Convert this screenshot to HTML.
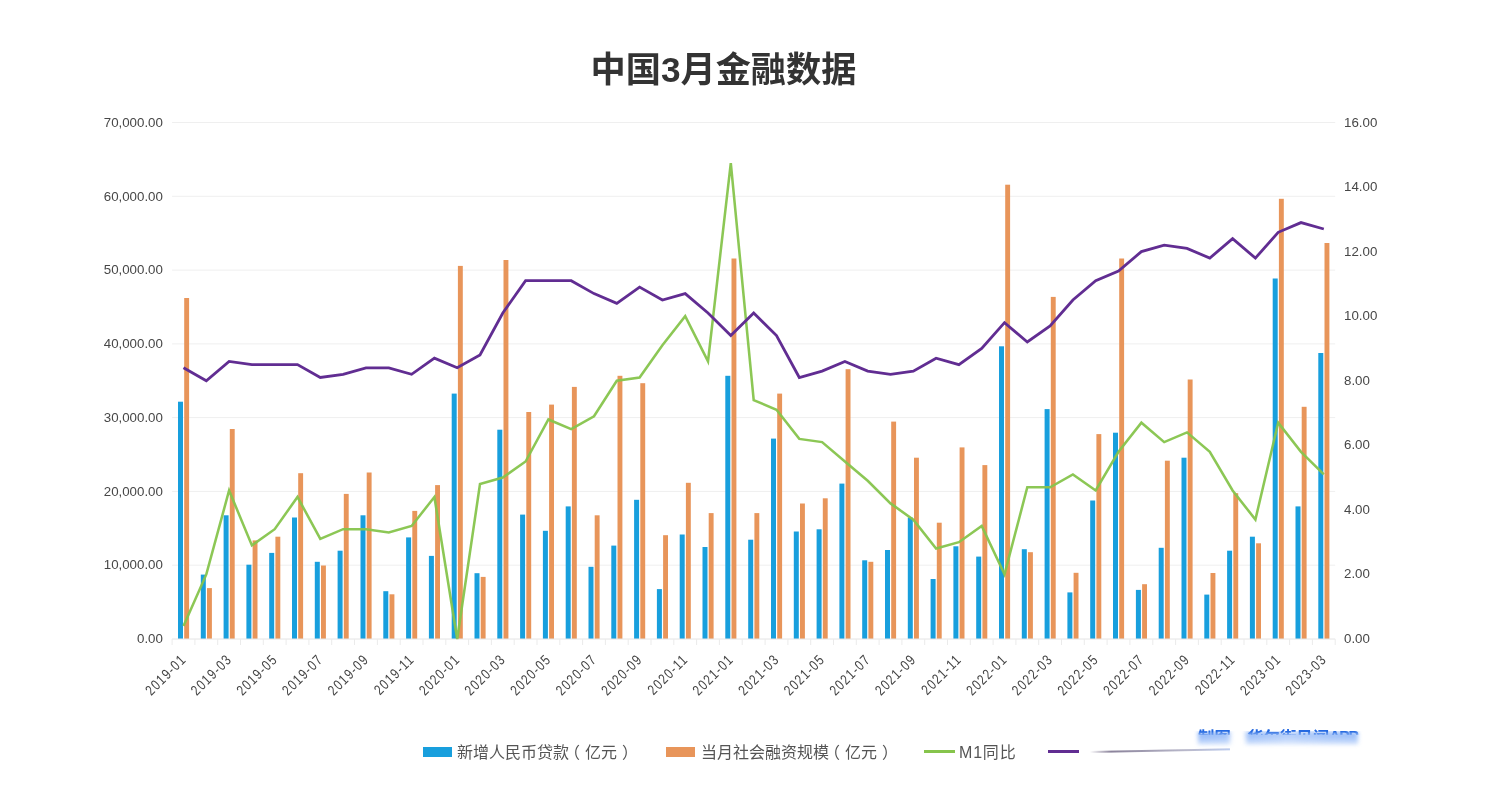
<!DOCTYPE html><html lang="zh"><head><meta charset="utf-8"><title>中国3月金融数据</title>
<style>
html,body{margin:0;padding:0;background:#fff;}
body{width:1498px;height:800px;overflow:hidden;position:relative;font-family:"Liberation Sans","Noto Sans CJK SC",sans-serif;}
#chart{position:absolute;left:0;top:0;width:1498px;height:800px;}
.title{position:absolute;left:0;top:43.5px;width:1447px;text-align:center;font-weight:bold;font-size:35.2px;line-height:52px;color:#333;letter-spacing:0px;}
.yl{font-size:13.3px;fill:#474747;}
.xl{font-size:14.6px;fill:#444;letter-spacing:1.4px;}
.lg{position:absolute;top:741px;height:24px;line-height:24px;font-size:16px;color:#555;white-space:nowrap;}
.sw{position:absolute;top:747px;height:10px;width:29px;}
.ln{position:absolute;top:750.2px;height:2.5px;width:31px;}
.pl{position:relative;left:-5px;}.pr{position:relative;left:5px;}
.wm{position:absolute;left:1198px;top:726.6px;width:170px;height:8px;overflow:hidden;-webkit-mask-image:linear-gradient(to bottom,#000 55%,rgba(0,0,0,.3));mask-image:linear-gradient(to bottom,#000 55%,rgba(0,0,0,.3));}
.wm span{display:block;font-size:16.4px;line-height:18px;font-weight:bold;color:#2468e0;white-space:nowrap;}
.wm span{margin-top:1px;filter:blur(0.7px);}
.wm b{opacity:0;font-weight:bold;}
.wm i{font-style:normal;font-size:15.5px;letter-spacing:-1.1px;position:relative;top:-1.3px;}
.wmb{position:absolute;left:1188px;top:731px;width:184px;height:19px;overflow:hidden;-webkit-mask-image:linear-gradient(to bottom,rgba(0,0,0,.8),rgba(0,0,0,.5) 45%,rgba(0,0,0,0) 95%);mask-image:linear-gradient(to bottom,rgba(0,0,0,.8),rgba(0,0,0,.5) 45%,rgba(0,0,0,0) 95%);}
.wmb div{position:absolute;left:10px;top:1px;width:160px;height:14px;filter:blur(2.2px);background:linear-gradient(90deg,rgba(63,130,242,.85) 0,rgba(63,130,242,.75) 30px,rgba(63,130,242,0) 34px,rgba(63,130,242,0) 46px,rgba(63,130,242,.8) 50px,rgba(63,130,242,.6) 90px,rgba(63,130,242,.75) 130px,rgba(63,130,242,.8) 160px);}
.smear2{position:absolute;left:1090px;top:750.8px;width:140px;height:2px;background:linear-gradient(90deg,rgba(120,110,140,0),rgba(110,100,130,.8) 15%,rgba(140,140,170,.6) 70%,rgba(120,150,220,.5));filter:blur(.7px);transform:rotate(-1.1deg);transform-origin:left center;}
</style></head><body>
<svg id="chart" width="1498" height="800" viewBox="0 0 1498 800" font-family="Liberation Sans, sans-serif">
<line x1="172.1" y1="565.2" x2="1335.2" y2="565.2" stroke="#efefef" stroke-width="1"/>
<line x1="172.1" y1="491.4" x2="1335.2" y2="491.4" stroke="#efefef" stroke-width="1"/>
<line x1="172.1" y1="417.6" x2="1335.2" y2="417.6" stroke="#efefef" stroke-width="1"/>
<line x1="172.1" y1="343.9" x2="1335.2" y2="343.9" stroke="#efefef" stroke-width="1"/>
<line x1="172.1" y1="270.1" x2="1335.2" y2="270.1" stroke="#efefef" stroke-width="1"/>
<line x1="172.1" y1="196.3" x2="1335.2" y2="196.3" stroke="#efefef" stroke-width="1"/>
<line x1="172.1" y1="122.5" x2="1335.2" y2="122.5" stroke="#efefef" stroke-width="1"/>
<rect x="178.0" y="401.7" width="5" height="237.3" fill="#189fdd"/>
<rect x="184.2" y="298.0" width="4.9" height="341.0" fill="#e8955a"/>
<rect x="200.8" y="574.6" width="5" height="64.4" fill="#189fdd"/>
<rect x="207.0" y="588.1" width="4.9" height="50.9" fill="#e8955a"/>
<rect x="223.6" y="515.3" width="5" height="123.7" fill="#189fdd"/>
<rect x="229.8" y="429.0" width="4.9" height="210.0" fill="#e8955a"/>
<rect x="246.4" y="564.7" width="5" height="74.3" fill="#189fdd"/>
<rect x="252.6" y="540.4" width="4.9" height="98.6" fill="#e8955a"/>
<rect x="269.2" y="552.9" width="5" height="86.1" fill="#189fdd"/>
<rect x="275.4" y="536.7" width="4.9" height="102.3" fill="#e8955a"/>
<rect x="292.0" y="517.5" width="5" height="121.5" fill="#189fdd"/>
<rect x="298.2" y="473.2" width="4.9" height="165.8" fill="#e8955a"/>
<rect x="314.8" y="561.8" width="5" height="77.2" fill="#189fdd"/>
<rect x="321.0" y="565.5" width="4.9" height="73.5" fill="#e8955a"/>
<rect x="337.6" y="550.7" width="5" height="88.3" fill="#189fdd"/>
<rect x="343.8" y="493.9" width="4.9" height="145.1" fill="#e8955a"/>
<rect x="360.5" y="515.3" width="5" height="123.7" fill="#189fdd"/>
<rect x="366.7" y="472.5" width="4.9" height="166.5" fill="#e8955a"/>
<rect x="383.3" y="591.2" width="5" height="47.8" fill="#189fdd"/>
<rect x="389.5" y="594.3" width="4.9" height="44.7" fill="#e8955a"/>
<rect x="406.1" y="537.4" width="5" height="101.6" fill="#189fdd"/>
<rect x="412.3" y="510.9" width="4.9" height="128.1" fill="#e8955a"/>
<rect x="428.9" y="555.9" width="5" height="83.1" fill="#189fdd"/>
<rect x="435.1" y="485.1" width="4.9" height="153.9" fill="#e8955a"/>
<rect x="451.7" y="393.6" width="5" height="245.4" fill="#189fdd"/>
<rect x="457.9" y="265.9" width="4.9" height="373.1" fill="#e8955a"/>
<rect x="474.5" y="573.2" width="5" height="65.8" fill="#189fdd"/>
<rect x="480.7" y="576.9" width="4.9" height="62.1" fill="#e8955a"/>
<rect x="497.3" y="429.7" width="5" height="209.3" fill="#189fdd"/>
<rect x="503.5" y="260.0" width="4.9" height="379.0" fill="#e8955a"/>
<rect x="520.1" y="514.6" width="5" height="124.4" fill="#189fdd"/>
<rect x="526.3" y="412.0" width="4.9" height="227.0" fill="#e8955a"/>
<rect x="542.9" y="530.8" width="5" height="108.2" fill="#189fdd"/>
<rect x="549.1" y="404.6" width="4.9" height="234.4" fill="#e8955a"/>
<rect x="565.7" y="506.4" width="5" height="132.6" fill="#189fdd"/>
<rect x="571.9" y="386.9" width="4.9" height="252.1" fill="#e8955a"/>
<rect x="588.5" y="566.8" width="5" height="72.2" fill="#189fdd"/>
<rect x="594.7" y="515.3" width="4.9" height="123.7" fill="#e8955a"/>
<rect x="611.3" y="545.6" width="5" height="93.4" fill="#189fdd"/>
<rect x="617.5" y="375.8" width="4.9" height="263.2" fill="#e8955a"/>
<rect x="634.1" y="499.8" width="5" height="139.2" fill="#189fdd"/>
<rect x="640.3" y="383.2" width="4.9" height="255.8" fill="#e8955a"/>
<rect x="656.9" y="589.1" width="5" height="49.9" fill="#189fdd"/>
<rect x="663.1" y="535.2" width="4.9" height="103.8" fill="#e8955a"/>
<rect x="679.7" y="534.5" width="5" height="104.5" fill="#189fdd"/>
<rect x="685.9" y="482.8" width="4.9" height="156.2" fill="#e8955a"/>
<rect x="702.5" y="547.0" width="5" height="92.0" fill="#189fdd"/>
<rect x="708.7" y="513.1" width="4.9" height="125.9" fill="#e8955a"/>
<rect x="725.3" y="375.8" width="5" height="263.2" fill="#189fdd"/>
<rect x="731.5" y="258.5" width="4.9" height="380.5" fill="#e8955a"/>
<rect x="748.2" y="539.7" width="5" height="99.3" fill="#189fdd"/>
<rect x="754.4" y="513.1" width="4.9" height="125.9" fill="#e8955a"/>
<rect x="771.0" y="438.6" width="5" height="200.4" fill="#189fdd"/>
<rect x="777.2" y="393.6" width="4.9" height="245.4" fill="#e8955a"/>
<rect x="793.8" y="531.5" width="5" height="107.5" fill="#189fdd"/>
<rect x="800.0" y="503.5" width="4.9" height="135.5" fill="#e8955a"/>
<rect x="816.6" y="529.3" width="5" height="109.7" fill="#189fdd"/>
<rect x="822.8" y="498.3" width="4.9" height="140.7" fill="#e8955a"/>
<rect x="839.4" y="483.6" width="5" height="155.4" fill="#189fdd"/>
<rect x="845.6" y="369.2" width="4.9" height="269.8" fill="#e8955a"/>
<rect x="862.2" y="560.3" width="5" height="78.7" fill="#189fdd"/>
<rect x="868.4" y="561.8" width="4.9" height="77.2" fill="#e8955a"/>
<rect x="885.0" y="550.0" width="5" height="89.0" fill="#189fdd"/>
<rect x="891.2" y="421.6" width="4.9" height="217.4" fill="#e8955a"/>
<rect x="907.8" y="517.5" width="5" height="121.5" fill="#189fdd"/>
<rect x="914.0" y="457.7" width="4.9" height="181.3" fill="#e8955a"/>
<rect x="930.6" y="579.0" width="5" height="60.0" fill="#189fdd"/>
<rect x="936.8" y="522.7" width="4.9" height="116.3" fill="#e8955a"/>
<rect x="953.4" y="546.3" width="5" height="92.7" fill="#189fdd"/>
<rect x="959.6" y="447.4" width="4.9" height="191.6" fill="#e8955a"/>
<rect x="976.2" y="556.6" width="5" height="82.4" fill="#189fdd"/>
<rect x="982.4" y="465.1" width="4.9" height="173.9" fill="#e8955a"/>
<rect x="999.0" y="346.3" width="5" height="292.7" fill="#189fdd"/>
<rect x="1005.2" y="184.7" width="4.9" height="454.3" fill="#e8955a"/>
<rect x="1021.8" y="549.2" width="5" height="89.8" fill="#189fdd"/>
<rect x="1028.0" y="552.2" width="4.9" height="86.8" fill="#e8955a"/>
<rect x="1044.6" y="409.1" width="5" height="229.9" fill="#189fdd"/>
<rect x="1050.8" y="296.9" width="4.9" height="342.1" fill="#e8955a"/>
<rect x="1067.4" y="592.4" width="5" height="46.6" fill="#189fdd"/>
<rect x="1073.6" y="572.8" width="4.9" height="66.2" fill="#e8955a"/>
<rect x="1090.2" y="500.5" width="5" height="138.5" fill="#189fdd"/>
<rect x="1096.4" y="434.1" width="4.9" height="204.9" fill="#e8955a"/>
<rect x="1113.0" y="432.7" width="5" height="206.3" fill="#189fdd"/>
<rect x="1119.2" y="258.5" width="4.9" height="380.5" fill="#e8955a"/>
<rect x="1135.9" y="589.9" width="5" height="49.1" fill="#189fdd"/>
<rect x="1142.1" y="584.2" width="4.9" height="54.8" fill="#e8955a"/>
<rect x="1158.7" y="547.8" width="5" height="91.2" fill="#189fdd"/>
<rect x="1164.9" y="460.7" width="4.9" height="178.3" fill="#e8955a"/>
<rect x="1181.5" y="457.7" width="5" height="181.3" fill="#189fdd"/>
<rect x="1187.7" y="379.5" width="4.9" height="259.5" fill="#e8955a"/>
<rect x="1204.3" y="594.6" width="5" height="44.4" fill="#189fdd"/>
<rect x="1210.5" y="573.0" width="4.9" height="66.0" fill="#e8955a"/>
<rect x="1227.1" y="550.7" width="5" height="88.3" fill="#189fdd"/>
<rect x="1233.3" y="493.2" width="4.9" height="145.8" fill="#e8955a"/>
<rect x="1249.9" y="536.7" width="5" height="102.3" fill="#189fdd"/>
<rect x="1256.1" y="543.3" width="4.9" height="95.7" fill="#e8955a"/>
<rect x="1272.7" y="278.5" width="5" height="360.5" fill="#189fdd"/>
<rect x="1278.9" y="198.8" width="4.9" height="440.2" fill="#e8955a"/>
<rect x="1295.5" y="506.4" width="5" height="132.6" fill="#189fdd"/>
<rect x="1301.7" y="406.8" width="4.9" height="232.2" fill="#e8955a"/>
<rect x="1318.3" y="353.0" width="5" height="286.0" fill="#189fdd"/>
<rect x="1324.5" y="243.0" width="4.9" height="396.0" fill="#e8955a"/>
<line x1="172.1" y1="639.0" x2="1335.2" y2="639.0" stroke="#e4e4e4" stroke-width="1"/>
<line x1="172.1" y1="639.0" x2="172.1" y2="645.0" stroke="#ebebeb" stroke-width="1"/>
<line x1="194.9" y1="639.0" x2="194.9" y2="645.0" stroke="#ebebeb" stroke-width="1"/>
<line x1="217.7" y1="639.0" x2="217.7" y2="645.0" stroke="#ebebeb" stroke-width="1"/>
<line x1="240.5" y1="639.0" x2="240.5" y2="645.0" stroke="#ebebeb" stroke-width="1"/>
<line x1="263.3" y1="639.0" x2="263.3" y2="645.0" stroke="#ebebeb" stroke-width="1"/>
<line x1="286.1" y1="639.0" x2="286.1" y2="645.0" stroke="#ebebeb" stroke-width="1"/>
<line x1="308.9" y1="639.0" x2="308.9" y2="645.0" stroke="#ebebeb" stroke-width="1"/>
<line x1="331.7" y1="639.0" x2="331.7" y2="645.0" stroke="#ebebeb" stroke-width="1"/>
<line x1="354.5" y1="639.0" x2="354.5" y2="645.0" stroke="#ebebeb" stroke-width="1"/>
<line x1="377.4" y1="639.0" x2="377.4" y2="645.0" stroke="#ebebeb" stroke-width="1"/>
<line x1="400.2" y1="639.0" x2="400.2" y2="645.0" stroke="#ebebeb" stroke-width="1"/>
<line x1="423.0" y1="639.0" x2="423.0" y2="645.0" stroke="#ebebeb" stroke-width="1"/>
<line x1="445.8" y1="639.0" x2="445.8" y2="645.0" stroke="#ebebeb" stroke-width="1"/>
<line x1="468.6" y1="639.0" x2="468.6" y2="645.0" stroke="#ebebeb" stroke-width="1"/>
<line x1="491.4" y1="639.0" x2="491.4" y2="645.0" stroke="#ebebeb" stroke-width="1"/>
<line x1="514.2" y1="639.0" x2="514.2" y2="645.0" stroke="#ebebeb" stroke-width="1"/>
<line x1="537.0" y1="639.0" x2="537.0" y2="645.0" stroke="#ebebeb" stroke-width="1"/>
<line x1="559.8" y1="639.0" x2="559.8" y2="645.0" stroke="#ebebeb" stroke-width="1"/>
<line x1="582.6" y1="639.0" x2="582.6" y2="645.0" stroke="#ebebeb" stroke-width="1"/>
<line x1="605.4" y1="639.0" x2="605.4" y2="645.0" stroke="#ebebeb" stroke-width="1"/>
<line x1="628.2" y1="639.0" x2="628.2" y2="645.0" stroke="#ebebeb" stroke-width="1"/>
<line x1="651.0" y1="639.0" x2="651.0" y2="645.0" stroke="#ebebeb" stroke-width="1"/>
<line x1="673.8" y1="639.0" x2="673.8" y2="645.0" stroke="#ebebeb" stroke-width="1"/>
<line x1="696.6" y1="639.0" x2="696.6" y2="645.0" stroke="#ebebeb" stroke-width="1"/>
<line x1="719.4" y1="639.0" x2="719.4" y2="645.0" stroke="#ebebeb" stroke-width="1"/>
<line x1="742.2" y1="639.0" x2="742.2" y2="645.0" stroke="#ebebeb" stroke-width="1"/>
<line x1="765.1" y1="639.0" x2="765.1" y2="645.0" stroke="#ebebeb" stroke-width="1"/>
<line x1="787.9" y1="639.0" x2="787.9" y2="645.0" stroke="#ebebeb" stroke-width="1"/>
<line x1="810.7" y1="639.0" x2="810.7" y2="645.0" stroke="#ebebeb" stroke-width="1"/>
<line x1="833.5" y1="639.0" x2="833.5" y2="645.0" stroke="#ebebeb" stroke-width="1"/>
<line x1="856.3" y1="639.0" x2="856.3" y2="645.0" stroke="#ebebeb" stroke-width="1"/>
<line x1="879.1" y1="639.0" x2="879.1" y2="645.0" stroke="#ebebeb" stroke-width="1"/>
<line x1="901.9" y1="639.0" x2="901.9" y2="645.0" stroke="#ebebeb" stroke-width="1"/>
<line x1="924.7" y1="639.0" x2="924.7" y2="645.0" stroke="#ebebeb" stroke-width="1"/>
<line x1="947.5" y1="639.0" x2="947.5" y2="645.0" stroke="#ebebeb" stroke-width="1"/>
<line x1="970.3" y1="639.0" x2="970.3" y2="645.0" stroke="#ebebeb" stroke-width="1"/>
<line x1="993.1" y1="639.0" x2="993.1" y2="645.0" stroke="#ebebeb" stroke-width="1"/>
<line x1="1015.9" y1="639.0" x2="1015.9" y2="645.0" stroke="#ebebeb" stroke-width="1"/>
<line x1="1038.7" y1="639.0" x2="1038.7" y2="645.0" stroke="#ebebeb" stroke-width="1"/>
<line x1="1061.5" y1="639.0" x2="1061.5" y2="645.0" stroke="#ebebeb" stroke-width="1"/>
<line x1="1084.3" y1="639.0" x2="1084.3" y2="645.0" stroke="#ebebeb" stroke-width="1"/>
<line x1="1107.1" y1="639.0" x2="1107.1" y2="645.0" stroke="#ebebeb" stroke-width="1"/>
<line x1="1129.9" y1="639.0" x2="1129.9" y2="645.0" stroke="#ebebeb" stroke-width="1"/>
<line x1="1152.8" y1="639.0" x2="1152.8" y2="645.0" stroke="#ebebeb" stroke-width="1"/>
<line x1="1175.6" y1="639.0" x2="1175.6" y2="645.0" stroke="#ebebeb" stroke-width="1"/>
<line x1="1198.4" y1="639.0" x2="1198.4" y2="645.0" stroke="#ebebeb" stroke-width="1"/>
<line x1="1221.2" y1="639.0" x2="1221.2" y2="645.0" stroke="#ebebeb" stroke-width="1"/>
<line x1="1244.0" y1="639.0" x2="1244.0" y2="645.0" stroke="#ebebeb" stroke-width="1"/>
<line x1="1266.8" y1="639.0" x2="1266.8" y2="645.0" stroke="#ebebeb" stroke-width="1"/>
<line x1="1289.6" y1="639.0" x2="1289.6" y2="645.0" stroke="#ebebeb" stroke-width="1"/>
<line x1="1312.4" y1="639.0" x2="1312.4" y2="645.0" stroke="#ebebeb" stroke-width="1"/>
<line x1="1335.2" y1="639.0" x2="1335.2" y2="645.0" stroke="#ebebeb" stroke-width="1"/>
<polyline points="183.5,626.1 206.3,574.4 229.1,490.5 251.9,545.4 274.7,529.2 297.5,497.0 320.3,538.9 343.1,529.2 366.0,529.2 388.8,532.5 411.6,526.0 434.4,497.0 457.2,639.0 480.0,484.1 502.8,477.6 525.6,461.5 548.4,419.5 571.2,429.2 594.0,416.3 616.8,380.8 639.6,377.5 662.4,345.2 685.2,316.2 708.0,361.4 730.8,163.2 753.7,400.1 776.5,409.8 799.3,438.9 822.1,442.1 844.9,461.5 867.7,480.8 890.5,503.4 913.3,519.6 936.1,548.6 958.9,542.2 981.7,526.0 1004.5,574.4 1027.3,487.3 1050.1,487.3 1072.9,474.4 1095.7,490.5 1118.5,451.8 1141.4,422.7 1164.2,442.1 1187.0,432.4 1209.8,451.8 1232.6,490.5 1255.4,519.6 1278.2,422.7 1301.0,451.8 1323.8,474.4" fill="none" stroke="#86c44c" stroke-width="2.55" stroke-opacity="0.95" stroke-linejoin="miter" stroke-linecap="butt"/>
<polyline points="183.5,367.8 206.3,380.8 229.1,361.4 251.9,364.6 274.7,364.6 297.5,364.6 320.3,377.5 343.1,374.3 366.0,367.8 388.8,367.8 411.6,374.3 434.4,358.2 457.2,367.8 480.0,354.9 502.8,313.0 525.6,280.7 548.4,280.7 571.2,280.7 594.0,293.6 616.8,303.3 639.6,287.1 662.4,300.0 685.2,293.6 708.0,313.0 730.8,335.6 753.7,313.0 776.5,335.6 799.3,377.5 822.1,371.1 844.9,361.4 867.7,371.1 890.5,374.3 913.3,371.1 936.1,358.2 958.9,364.6 981.7,348.5 1004.5,322.6 1027.3,342.0 1050.1,325.9 1072.9,300.0 1095.7,280.7 1118.5,271.0 1141.4,251.6 1164.2,245.2 1187.0,248.4 1209.8,258.1 1232.6,238.7 1255.4,258.1 1278.2,232.3 1301.0,222.6 1323.8,229.0" fill="none" stroke="#612d92" stroke-width="2.8" stroke-opacity="1" stroke-linejoin="miter" stroke-linecap="butt"/>
<text class="yl" x="162.9" y="643.2" text-anchor="end">0.00</text>
<text class="yl" x="162.9" y="569.4" text-anchor="end">10,000.00</text>
<text class="yl" x="162.9" y="495.6" text-anchor="end">20,000.00</text>
<text class="yl" x="162.9" y="421.8" text-anchor="end">30,000.00</text>
<text class="yl" x="162.9" y="348.1" text-anchor="end">40,000.00</text>
<text class="yl" x="162.9" y="274.3" text-anchor="end">50,000.00</text>
<text class="yl" x="162.9" y="200.5" text-anchor="end">60,000.00</text>
<text class="yl" x="162.9" y="126.7" text-anchor="end">70,000.00</text>
<text class="yl" x="1344" y="643.0">0.00</text>
<text class="yl" x="1344" y="578.4">2.00</text>
<text class="yl" x="1344" y="513.9">4.00</text>
<text class="yl" x="1344" y="449.3">6.00</text>
<text class="yl" x="1344" y="384.8">8.00</text>
<text class="yl" x="1344" y="320.2">10.00</text>
<text class="yl" x="1344" y="255.6">12.00</text>
<text class="yl" x="1344" y="191.1">14.00</text>
<text class="yl" x="1344" y="126.5">16.00</text>
<text class="xl" text-anchor="end" transform="translate(187.1,660.4) rotate(-45) scale(0.8,1)">2019-01</text>
<text class="xl" text-anchor="end" transform="translate(232.7,660.4) rotate(-45) scale(0.8,1)">2019-03</text>
<text class="xl" text-anchor="end" transform="translate(278.3,660.4) rotate(-45) scale(0.8,1)">2019-05</text>
<text class="xl" text-anchor="end" transform="translate(323.9,660.4) rotate(-45) scale(0.8,1)">2019-07</text>
<text class="xl" text-anchor="end" transform="translate(369.6,660.4) rotate(-45) scale(0.8,1)">2019-09</text>
<text class="xl" text-anchor="end" transform="translate(415.2,660.4) rotate(-45) scale(0.8,1)">2019-11</text>
<text class="xl" text-anchor="end" transform="translate(460.8,660.4) rotate(-45) scale(0.8,1)">2020-01</text>
<text class="xl" text-anchor="end" transform="translate(506.4,660.4) rotate(-45) scale(0.8,1)">2020-03</text>
<text class="xl" text-anchor="end" transform="translate(552.0,660.4) rotate(-45) scale(0.8,1)">2020-05</text>
<text class="xl" text-anchor="end" transform="translate(597.6,660.4) rotate(-45) scale(0.8,1)">2020-07</text>
<text class="xl" text-anchor="end" transform="translate(643.2,660.4) rotate(-45) scale(0.8,1)">2020-09</text>
<text class="xl" text-anchor="end" transform="translate(688.8,660.4) rotate(-45) scale(0.8,1)">2020-11</text>
<text class="xl" text-anchor="end" transform="translate(734.4,660.4) rotate(-45) scale(0.8,1)">2021-01</text>
<text class="xl" text-anchor="end" transform="translate(780.1,660.4) rotate(-45) scale(0.8,1)">2021-03</text>
<text class="xl" text-anchor="end" transform="translate(825.7,660.4) rotate(-45) scale(0.8,1)">2021-05</text>
<text class="xl" text-anchor="end" transform="translate(871.3,660.4) rotate(-45) scale(0.8,1)">2021-07</text>
<text class="xl" text-anchor="end" transform="translate(916.9,660.4) rotate(-45) scale(0.8,1)">2021-09</text>
<text class="xl" text-anchor="end" transform="translate(962.5,660.4) rotate(-45) scale(0.8,1)">2021-11</text>
<text class="xl" text-anchor="end" transform="translate(1008.1,660.4) rotate(-45) scale(0.8,1)">2022-01</text>
<text class="xl" text-anchor="end" transform="translate(1053.7,660.4) rotate(-45) scale(0.8,1)">2022-03</text>
<text class="xl" text-anchor="end" transform="translate(1099.3,660.4) rotate(-45) scale(0.8,1)">2022-05</text>
<text class="xl" text-anchor="end" transform="translate(1145.0,660.4) rotate(-45) scale(0.8,1)">2022-07</text>
<text class="xl" text-anchor="end" transform="translate(1190.6,660.4) rotate(-45) scale(0.8,1)">2022-09</text>
<text class="xl" text-anchor="end" transform="translate(1236.2,660.4) rotate(-45) scale(0.8,1)">2022-11</text>
<text class="xl" text-anchor="end" transform="translate(1281.8,660.4) rotate(-45) scale(0.8,1)">2023-01</text>
<text class="xl" text-anchor="end" transform="translate(1327.4,660.4) rotate(-45) scale(0.8,1)">2023-03</text>
</svg>
<div class="title">中国3月金融数据</div>
<div class="sw" style="left:423px;background:#189fdd"></div><div class="lg" style="left:457px">新增人民币贷款<span class="pl">（</span>亿元<span class="pr">）</span></div>
<div class="sw" style="left:666px;background:#e8955a"></div><div class="lg" style="left:701px">当月社会融资规模<span class="pl">（</span>亿元<span class="pr">）</span></div>
<div class="ln" style="left:924px;background:#86c44c"></div><div class="lg" style="left:959px;letter-spacing:0.8px">M1同比</div>
<div class="ln" style="left:1048px;background:#612d92"></div>
<div class="smear2"></div>
<div class="wmb"><div></div></div><div class="wm"><span>制图<b>：</b>华尔街见闻<i>APP</i></span></div>
</body></html>
